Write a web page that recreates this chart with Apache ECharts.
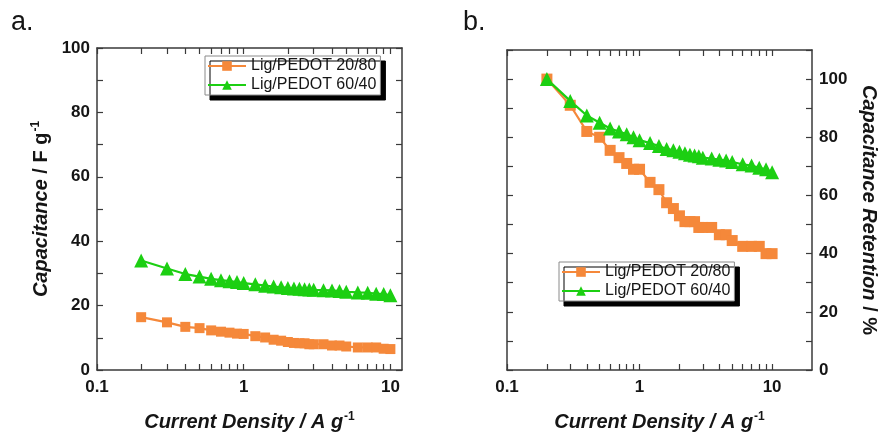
<!DOCTYPE html>
<html>
<head>
<meta charset="utf-8">
<script src="https://cdn.jsdelivr.net/npm/echarts@6/dist/echarts.min.js"></script>
<style>
html,body{margin:0;padding:0;background:#fff;}
#chart{width:882px;height:437px;}
</style>
</head>
<body>
<div id="chart"></div>
<script>
// ---- data ----
const seriesNames = ['Lig/PEDOT 20/80', 'Lig/PEDOT 60/40'];
const currentDensity = [0.2,0.3,0.4,0.5,0.6,0.7,0.8,0.9,1.0,1.2,1.4,1.6,1.8,2.0,2.2,2.4,2.6,2.8,3.0,3.5,4.0,4.5,5.0,6.0,7.0,8.0,9.0,10.0];
const capacitance2080 = [16.4,14.8,13.4,13.0,12.3,11.9,11.6,11.3,11.2,10.5,10.1,9.4,9.1,8.7,8.4,8.3,8.3,8.0,8.0,8.0,7.6,7.6,7.3,7.0,7.0,7.0,6.6,6.5];
const capacitance6040 = [34.0,31.5,29.8,29.0,28.3,27.9,27.6,27.3,27.0,26.6,26.2,25.9,25.7,25.5,25.3,25.2,25.1,25.0,24.9,24.8,24.7,24.5,24.3,24.1,24.0,23.7,23.6,23.2];
const retention2080 = [100,91,82,80,75.5,73,71,69,69,64.5,62,57.5,55.5,53,51,51,51,49,49,49,46.5,46.5,44.5,42.5,42.5,42.5,40,40];
const retention6040 = [100,92.5,87.5,85,83,82,81,80,79,78,77,76,75.5,75,74.5,74,73.7,73.5,73,72.7,72.3,72,71.5,70.7,70.3,69.5,69,68];
const xMajorTicks = [0.1, 1, 10];
const xAllTicks = [0.1,0.2,0.3,0.4,0.5,0.6,0.7,0.8,0.9,1,2,3,4,5,6,7,8,9,10];

// ---- style ----
const FONT = '"Liberation Sans", Arial, Helvetica, sans-serif';
const ORANGE = '#F5883A';
const GREEN = '#1CCF12';
const FRAME = '#3a3a3a';
const TXT = '#151515';

const pairs = (xs, ys) => xs.map((x, i) => [x, ys[i]]);

const nameRich = {
  it: {fontStyle: 'italic', fontWeight: 'bold', fontSize: 20, fontFamily: FONT, color: TXT},
  n: {fontStyle: 'normal', fontWeight: 'bold', fontSize: 20, fontFamily: FONT, color: TXT},
  ni: {fontStyle: 'italic', fontWeight: 'bold', fontSize: 20, fontFamily: FONT, color: TXT},
  sup: {fontWeight: 'bold', fontSize: 12, fontFamily: FONT, color: TXT, verticalAlign: 'top', padding: [0, 0, 10, 1]}
};

function xAxes(grid, xmax) {
  const line = {show: true, onZero: false, lineStyle: {color: FRAME, width: 1.5}};
  return [
    {
      gridIndex: grid, type: 'log', logBase: 10, min: 0.1, max: xmax, position: 'bottom',
      axisLine: line,
      axisTick: {show: true, inside: true, length: 6, customValues: xAllTicks, lineStyle: {color: FRAME, width: 1.2}},
      axisLabel: {show: true, customValues: xMajorTicks, margin: 9, fontSize: 17, fontWeight: 'bold', fontFamily: FONT, color: TXT,
        formatter: v => (Math.abs(v - 0.1) < 1e-9 ? '0.1' : String(Math.round(v)))},
      splitLine: {show: false}, minorTick: {show: false},
      name: '{ni|Current Density / A g}{sup|-1}', nameLocation: 'middle', nameGap: 41,
      nameTextStyle: {rich: nameRich, fontSize: 20, fontWeight: 'bold', fontFamily: FONT}
    },
    {
      gridIndex: grid, type: 'log', logBase: 10, min: 0.1, max: xmax, position: 'top',
      axisLine: line,
      axisTick: {show: true, inside: true, length: 6, customValues: xAllTicks, lineStyle: {color: FRAME, width: 1.2}},
      axisLabel: {show: false}, splitLine: {show: false}
    }
  ];
}

function yAxes(grid, ymax, labelSide, name, nameRotate, nameGap) {
  const line = {show: true, onZero: false, lineStyle: {color: FRAME, width: 1.5}};
  const mk = (pos, labelled) => ({
    gridIndex: grid, type: 'value', min: 0, max: ymax, interval: 10, position: pos,
    axisLine: line,
    axisTick: {show: true, inside: true, length: 6, lineStyle: {color: FRAME, width: 1.2}},
    axisLabel: labelled ? {show: true, margin: 7, fontSize: 17, fontWeight: 'bold', fontFamily: FONT, color: TXT,
      formatter: v => (v % 20 === 0 && v <= 100 ? String(v) : '')} : {show: false},
    splitLine: {show: false},
    name: labelled ? name : '',
    nameLocation: 'middle', nameGap: nameGap, nameRotate: nameRotate,
    nameTextStyle: {rich: nameRich, fontSize: 20, fontWeight: 'bold', fontFamily: FONT}
  });
  return labelSide === 'left' ? [mk('left', true), mk('right', false)] : [mk('right', true), mk('left', false)];
}

function legend(left, top) {
  return {
    left: left, top: top, orient: 'vertical', data: seriesNames,
    backgroundColor: '#fff', borderColor: '#8a8a8a', borderWidth: 1,
    padding: [2, 4, 2, 2], itemGap: 3, itemWidth: 38, itemHeight: 12,
    textStyle: {fontSize: 16, color: TXT, fontFamily: FONT},
    shadowColor: '#000', shadowBlur: 0, shadowOffsetX: 5, shadowOffsetY: 5,
    selectedMode: false
  };
}

function series(name, xi, yi, xs, ys, color, symbol, size) {
  return {
    name: name, type: 'line', xAxisIndex: xi, yAxisIndex: yi,
    data: pairs(xs, ys), symbol: symbol, symbolSize: size, showSymbol: true,
    lineStyle: {color: color, width: 2.2}, itemStyle: {color: color},
    animation: false, z: 3
  };
}

const option = {
  backgroundColor: '#fff',
  animation: false,
  title: [
    {text: 'a.', left: 6, top: 4, textStyle: {fontSize: 27, fontWeight: 'normal', fontFamily: FONT, color: TXT}},
    {text: 'b.', left: 458, top: 4, textStyle: {fontSize: 27, fontWeight: 'normal', fontFamily: FONT, color: TXT}}
  ],
  grid: [
    {left: 97, top: 48, width: 305, height: 322},
    {left: 507, top: 50, width: 305, height: 320}
  ],
  xAxis: [].concat(xAxes(0, 12), xAxes(1, 20)),
  yAxis: [].concat(
    yAxes(0, 100, 'left', '{it|Capacitance} {n|/ F g}{sup|-1}', 90, 45),
    yAxes(1, 110, 'right', '{it|Capacitance Retention} {n|/ %}', -90, 47)
  ),
  legend: [legend(205, 56), legend(559, 262)],
  series: [
    series(seriesNames[0], 0, 0, currentDensity, capacitance2080, ORANGE, 'rect', 10),
    series(seriesNames[1], 0, 0, currentDensity, capacitance6040, GREEN, 'triangle', 14),
    series(seriesNames[0], 2, 2, currentDensity, retention2080, ORANGE, 'rect', 11),
    series(seriesNames[1], 2, 2, currentDensity, retention6040, GREEN, 'triangle', 14)
  ]
};

const chart = echarts.init(document.getElementById('chart'), null, {renderer: 'canvas'});
chart.setOption(option);
</script>
</body>
</html>
